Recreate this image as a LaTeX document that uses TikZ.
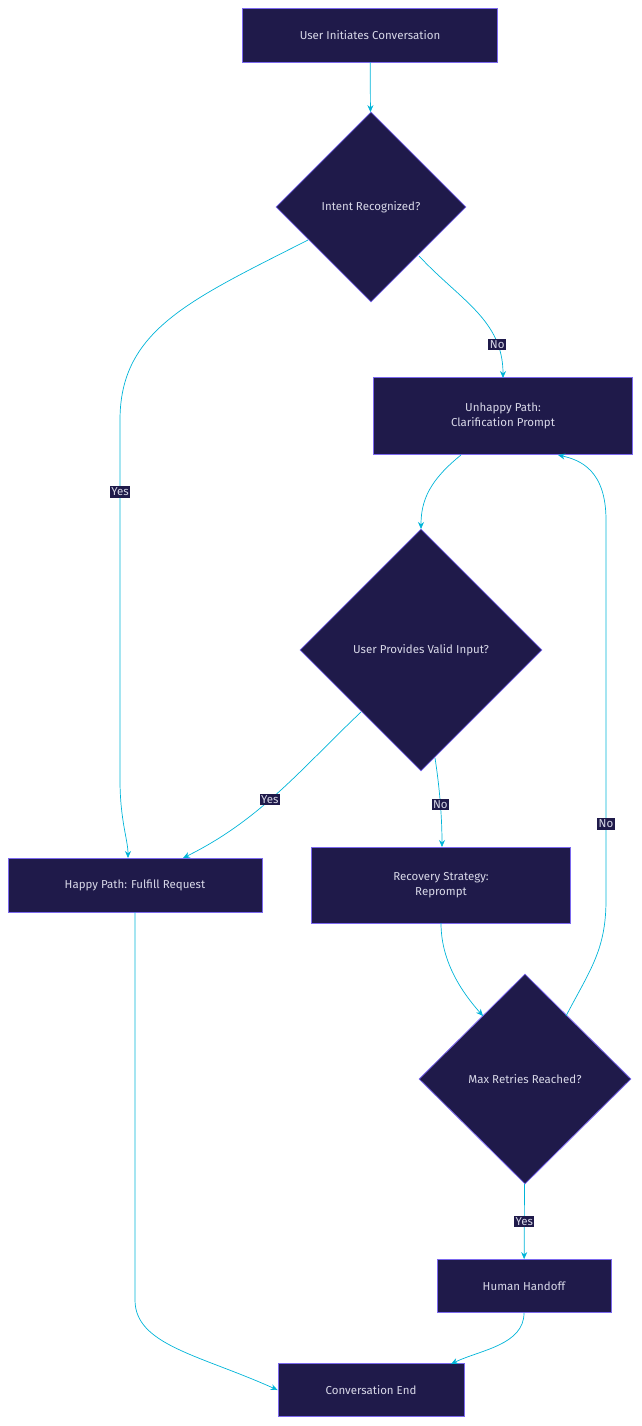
\documentclass[tikz,border=0pt]{standalone}
\usepackage{fontspec}
\setmainfont{Fira Sans}
\usetikzlibrary{shapes.geometric,arrows.meta}
\definecolor{nfill}{HTML}{1F1A4A}
\definecolor{nedge}{HTML}{7B68EE}
\definecolor{ntext}{HTML}{D8D8E8}
\definecolor{lcol}{HTML}{00B4D8}
\tikzset{
 box/.style={draw=nedge,fill=nfill,text=ntext,line width=0.8pt,inner sep=0pt,align=center,font=\fontsize{11.5}{15}\selectfont},
 dia/.style={diamond,draw=nedge,fill=nfill,text=ntext,line width=0.8pt,inner sep=0pt,font=\fontsize{11.5}{15}\selectfont},
 con/.style={draw=lcol,line width=0.7pt,-{Stealth[length=7pt,width=6pt]}},
 lab/.style={fill=nfill,text=ntext,inner sep=1.5pt,font=\fontsize{11.5}{14}\selectfont}
}
\begin{document}
\begin{tikzpicture}[x=1pt,y=-1pt]
\useasboundingbox (0,0) rectangle (642,1426);
\node[box,minimum width=255pt,minimum height=54pt] (start) at (370,35) {User Initiates Conversation};
\node[dia,minimum width=190pt,minimum height=190pt] (d1) at (371,207) {Intent Recognized?};
\node[box,minimum width=259pt,minimum height=77pt] (unh) at (503,416) {Unhappy Path:\\Clarification Prompt};
\node[dia,minimum width=242pt,minimum height=242pt] (d2) at (421,650) {User Provides Valid Input?};
\node[box,minimum width=254pt,minimum height=54pt] (hap) at (135,885) {Happy Path: Fulfill Request};
\node[box,minimum width=259pt,minimum height=76pt] (rec) at (441,885) {Recovery Strategy:\\Reprompt};
\node[dia,minimum width=212pt,minimum height=210pt] (d3) at (525,1079) {Max Retries Reached?};
\node[box,minimum width=174pt,minimum height=53pt] (hum) at (524,1286) {Human Handoff};
\node[box,minimum width=186pt,minimum height=53pt] (end) at (371,1390) {Conversation End};
\coordinate (a1) at (419,256);
\coordinate (a2) at (308,240);
\coordinate (a3) at (461,455);
\coordinate (a4) at (361,712);
\coordinate (a5) at (435,758);
\coordinate (a6) at (441,923);
\coordinate (a7) at (566,1016);
\draw[con] (start) -- (d1);
\draw[con] (a1) .. controls (460,300) and (503,320) .. node[lab,pos=0.78]{No} (503,378);
\draw[con] (a2) .. controls (190,300) and (120,330) .. (120,420) -- node[lab,pos=0.2]{Yes} (120,780) .. controls (120,820) and (128,840) .. (128,858);
\draw[con] (a3) .. controls (430,480) and (421,500) .. (421,529);
\draw[con] (a4) .. controls (300,770) and (260,820) .. node[lab,pos=0.55]{Yes} (183,858);
\draw[con] (a5) .. controls (440,790) and (442,820) .. node[lab,pos=0.5]{No} (442,847);
\draw[con] (a6) .. controls (441,960) and (460,990) .. (483,1016);
\draw[con] (a7) .. controls (590,970) and (606,950) .. (606,900) -- node[lab,pos=0.2]{No} (606,520) .. controls (606,470) and (580,460) .. (558,455);
\draw[con] (d3) -- node[lab]{Yes} (hum);
\draw[con] (hap.south) -- (135,1300) .. controls (135,1345) and (200,1355) .. (end.west);
\draw[con] (hum.south) .. controls (524,1345) and (480,1350) .. (451,1364);
\end{tikzpicture}
\end{document}
